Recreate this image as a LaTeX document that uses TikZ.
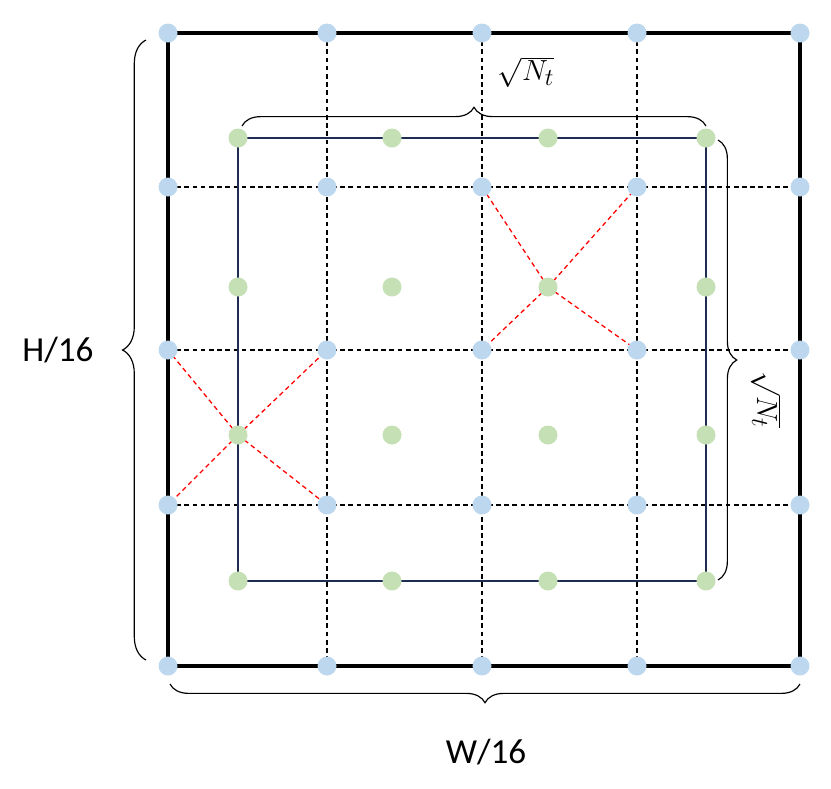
\documentclass[tikz,border=0pt]{standalone}
\usepackage{fontspec}
\setmainfont{Carlito}
\usetikzlibrary{decorations.pathreplacing}
\begin{document}
\begin{tikzpicture}[x=0.3mm,y=-0.3mm,
  bdot/.style={circle,fill={rgb,255:red,189;green,215;blue,238},minimum size=19*0.3mm,inner sep=0pt},
  gdot/.style={circle,fill={rgb,255:red,197;green,224;blue,180},minimum size=19*0.3mm,inner sep=0pt},
  grid/.style={dash pattern=on 4pt off 3pt,line width=1pt},
  rd/.style={red,dash pattern=on 4pt off 3pt,line width=1.1pt},
  br/.style={decorate,decoration={brace,amplitude=16pt},line width=1pt},
  lab/.style={font=\fontsize{30}{32}\selectfont}]
\useasboundingbox (0,0) rectangle (831,788);
\def\xs{168/0,327/1,482/2,637/3,800/4}
\def\ys{33/0,187/1,350/2,505/3,666/4}
\foreach \x/\i in \xs {\foreach \y/\j in \ys {\coordinate (c\i\j) at (\x,\y);}}
\foreach \i in {1,2,3} {\draw[grid] (c\i0) -- (c\i4); \draw[grid] (c0\i) -- (c4\i);}
\draw[line width=2.6pt] (c00) rectangle (c44);
\foreach \x/\i in {238/0,392/1,548/2,706/3} {\foreach \y/\j in {138/0,287/1,435/2,581/3} {\coordinate (g\i\j) at (\x,\y);}}
\draw[line width=1.2pt,color={rgb,255:red,31;green,45;blue,80}] (g00) rectangle (g33);
\foreach \a in {21,31,22,32} \draw[rd] (g21) -- (c\a);
\foreach \a in {02,12,03,13} \draw[rd] (g02) -- (c\a);
\foreach \i in {0,...,4} {\foreach \j in {0,...,4} {\node[bdot] (b\i\j) at (c\i\j) {};}}
\foreach \i in {0,...,3} {\foreach \j in {0,...,3} {\node[gdot] (n\i\j) at (g\i\j) {};}}
\coordinate (l1) at (146,660); \coordinate (l2) at (146,40);
\draw[br,decoration={amplitude=20pt}] (l1) -- (l2);
\node[lab] (H) at (58,350) {H/16};
\coordinate (bb1) at (170,684); \coordinate (bb2) at (800,684);
\draw[br,decoration={mirror}] (bb1) -- (bb2);
\node[lab] (W) at (486,752) {W/16};
\coordinate (t1) at (242,126); \coordinate (t2) at (706,126);
\draw[br] (t1) -- (t2);
\node[lab] (sn1) at (526,72) {$\sqrt{N_t}$};
\coordinate (r1) at (718,140); \coordinate (r2) at (718,580);
\draw[br] (r1) -- (r2);
\node[lab,rotate=-90] (sn2) at (766,400) {$\sqrt{N_t}$};
\end{tikzpicture}
\end{document}
